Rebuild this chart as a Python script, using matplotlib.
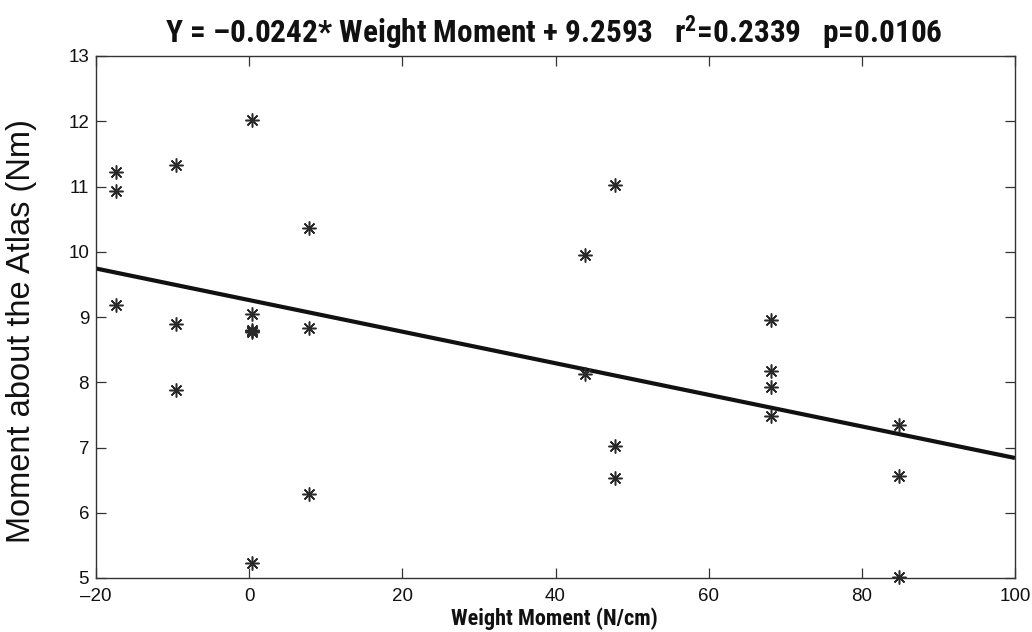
import matplotlib
matplotlib.use("Agg")
import matplotlib.pyplot as plt
from matplotlib import font_manager as fm
import numpy as np

# ---- data ----
weight_moment = [-17.4, -17.4, -17.4,
                 -9.6, -9.6, -9.6,
                 0.4, 0.4, 0.4, 0.4, 0.4, 0.4,
                 7.8, 7.8, 7.8,
                 43.8, 43.8,
                 47.8, 47.8, 47.8,
                 68.1, 68.1, 68.1, 68.1,
                 84.9, 84.9, 84.9]
moment_atlas = [11.22, 10.93, 9.19,
                11.33, 8.90, 7.88,
                12.02, 9.05, 8.80, 8.78, 8.77, 5.23,
                10.36, 8.83, 6.29,
                9.95, 8.13,
                11.03, 7.03, 6.54,
                8.95, 8.18, 7.92, 7.48,
                7.34, 6.56, 5.02]
slope = -0.0242
intercept = 9.2593
fit_x = [-20, 100]
x_ticks = [-20, 0, 20, 40, 60, 80, 100]
y_ticks = [5, 6, 7, 8, 9, 10, 11, 12, 13]
title_text = "Y = \u20130.0242* Weight Moment + 9.2593   r$^{\\mathbf{2}}$=0.2339   p=0.0106"
xlabel_text = "Weight Moment (N/cm)"
ylabel_text = "Moment about the Atlas (Nm)"

# ---- fonts ----
available = {f.name for f in fm.fontManager.ttflist}
def pick(cands):
    for c in cands:
        if c in available:
            return c
    return "DejaVu Sans"
regular = pick(["Liberation Sans", "Arial", "DejaVu Sans"])
narrow = pick(["Liberation Sans Narrow", "DejaVu Sans Condensed", "Roboto Condensed", "Liberation Sans"])

plt.rcParams["mathtext.fontset"] = "custom"
plt.rcParams["mathtext.bf"] = narrow + ":bold"
plt.rcParams["mathtext.rm"] = narrow

fig = plt.figure(figsize=(10.32, 6.32), dpi=100)
ax = fig.add_axes([96/1032, 1-578/632, (1015-96)/1032, (578-56)/632])

fx = np.array(fit_x, dtype=float)
ax.plot(fx, slope*fx + intercept, color="#111111", lw=3.0, solid_capstyle="butt", zorder=2)
ax.plot(weight_moment, moment_atlas, linestyle="none", marker=(8, 2, 0),
        markersize=10, markeredgewidth=1.1, color="#2a2a2a", zorder=3, clip_on=False)

ax.set_xlim(-20, 100)
ax.set_ylim(5, 13)
ax.set_xticks(x_ticks)
ax.set_yticks(y_ticks)
ax.set_xticklabels([str(t).replace("-", "\u2013") for t in x_ticks], fontfamily=regular, fontsize=13.5)
ax.set_yticklabels([str(t) for t in y_ticks], fontfamily=regular, fontsize=13.5)
ax.tick_params(direction="in", top=True, right=True, length=7, width=0.9,
               color="#333333", labelcolor="#111111")
ax.tick_params(axis="x", pad=7)
ax.tick_params(axis="y", pad=5)
for s in ax.spines.values():
    s.set_color("#333333")
    s.set_linewidth(1.0)

fig.text(554/1032, 1-33/632, title_text, ha="center", va="center",
         fontfamily=narrow, fontweight="bold", fontsize=22.5, color="#111111")
fig.text(554/1032, 1-619/632, xlabel_text, ha="center", va="center",
         fontfamily=narrow, fontweight="bold", fontsize=16, color="#111111")
fig.text(22/1032, 1-331/632, ylabel_text, ha="center", va="center", rotation=90,
         fontfamily=regular, fontsize=23.5, color="#111111")

fig.savefig("out.png", dpi=100, facecolor="white")
